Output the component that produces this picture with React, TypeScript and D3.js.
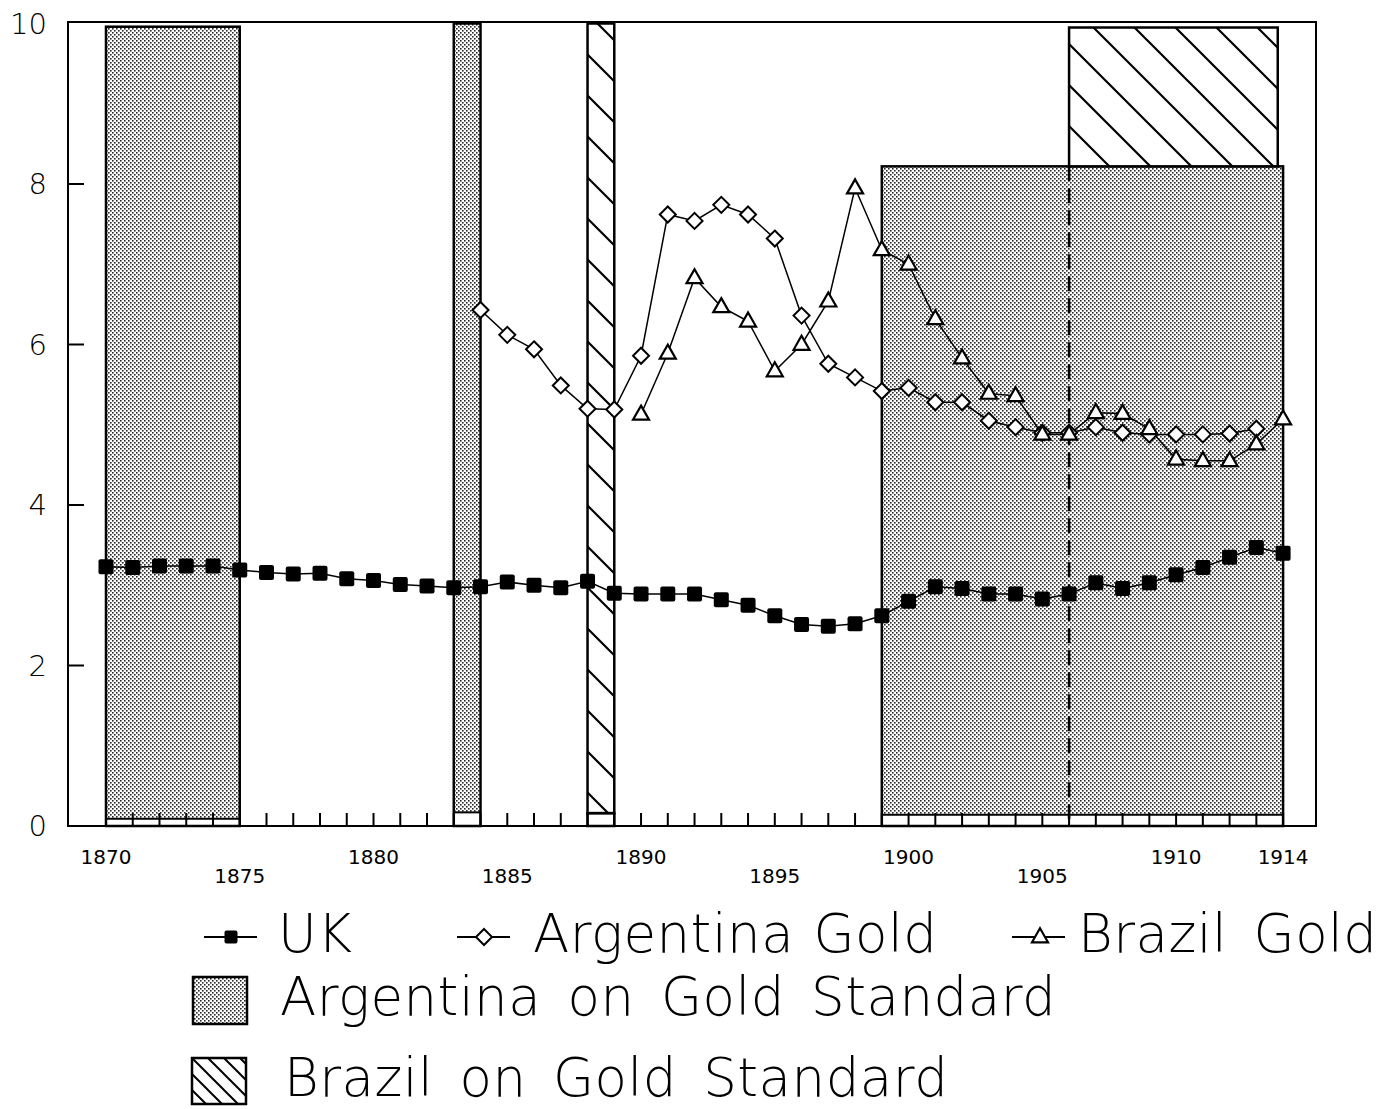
import React from 'react';
import * as d3 from 'd3';

// ---- data ----
const ukStart = 1870;
const ukValues = [3.23, 3.22, 3.24, 3.24, 3.24, 3.19, 3.16, 3.14, 3.15, 3.08, 3.06, 3.01, 2.99, 2.97, 2.98, 3.04, 3.0, 2.97, 3.05, 2.9, 2.89, 2.89, 2.89, 2.82, 2.75, 2.62, 2.51, 2.49, 2.52, 2.62, 2.8, 2.98, 2.96, 2.89, 2.89, 2.83, 2.89, 3.03, 2.96, 3.03, 3.13, 3.22, 3.35, 3.47, 3.4];
const argStart = 1884;
const argValues = [6.43, 6.12, 5.94, 5.49, 5.2, 5.19, 5.86, 7.62, 7.54, 7.74, 7.62, 7.32, 6.36, 5.76, 5.59, 5.42, 5.46, 5.28, 5.28, 5.05, 4.97, 4.9, 4.9, 4.97, 4.9, 4.88, 4.88, 4.88, 4.89, 4.95];
const braStart = 1890;
const braValues = [5.13, 5.89, 6.83, 6.47, 6.29, 5.67, 6.0, 6.54, 7.95, 7.18, 7.0, 6.32, 5.83, 5.39, 5.36, 4.88, 4.88, 5.15, 5.14, 4.95, 4.57, 4.55, 4.55, 4.76, 5.07];

const argBarStart = [1870, 1883, 1899];
const argBarEnd = [1875, 1884, 1914];
const argBarLow = [0.09, 0.17, 0.14];
const argBarHigh = [9.96, 10, 8.22];

const braBarStart = [1888, 1906];
const braBarEnd = [1889, 1913.8];
const braBarLow = [0.16, 8.22];
const braBarHigh = [10, 9.95];

const yTicks = [0, 2, 4, 6, 8, 10];
const xLabelsUpper = [1870, 1880, 1890, 1900, 1910, 1914];
const xLabelsLower = [1875, 1885, 1895, 1905];

const legendLabels = ['UK', 'Argentina Gold', 'Brazil Gold', 'Argentina on Gold Standard', 'Brazil on Gold Standard'];

// ---- layout ----
const W = 1383;
const H = 1109;
const left = 68, right = 1316, top = 22, bottom = 826;

const x = d3.scaleLinear().domain([1868.58, 1915.23]).range([left, right]);
const y = d3.scaleLinear().domain([0, 10]).range([bottom, 23.5]);

const FONT = '"DejaVu Sans", sans-serif';
const FONT_LIGHT = '"DejaVu Sans ExtraLight", "DejaVu Sans Light", "DejaVu Sans", sans-serif';

function series(start: number, vals: number[]) {
  return vals.map((v, i) => ({ year: start + i, v }));
}

const lineGen = d3
  .line<{ year: number; v: number }>()
  .x((d) => x(d.year))
  .y((d) => y(d.v));

const Square = ({ cx, cy, s = 15 }: { cx: number; cy: number; s?: number }) => (
  <rect x={cx - s / 2} y={cy - s / 2} width={s} height={s} rx={2} fill="#000" />
);
const Diamond = ({ cx, cy, r = 8 }: { cx: number; cy: number; r?: number }) => (
  <path d={`M${cx},${cy - r}L${cx + r},${cy}L${cx},${cy + r}L${cx - r},${cy}Z`} fill="#fff" stroke="#000" strokeWidth={2} />
);
const Triangle = ({ cx, cy, w = 16, h = 14 }: { cx: number; cy: number; w?: number; h?: number }) => (
  <path d={`M${cx},${cy - h * 0.62}L${cx + w / 2},${cy + h * 0.38}L${cx - w / 2},${cy + h * 0.38}Z`} fill="#fff" stroke="#000" strokeWidth={2.2} strokeLinejoin="miter" />
);

export default function App() {
  const uk = series(ukStart, ukValues);
  const arg = series(argStart, argValues);
  const bra = series(braStart, braValues);
  const years = d3.range(1870, 1915);

  return (
    <svg width={W} height={H} style={{ position: 'absolute', left: 0, top: 0, background: '#fff' }} xmlns="http://www.w3.org/2000/svg">
      <defs>
        <pattern id="stipple" patternUnits="userSpaceOnUse" width={4} height={4}>
          <rect width={4} height={4} fill="#fff" />
          <rect x={0} y={0} width={1.6} height={1.6} fill="#2a2a2a" />
          <rect x={2} y={2} width={1.6} height={1.6} fill="#2a2a2a" />
        </pattern>
        <pattern id="hatch" patternUnits="userSpaceOnUse" width={41} height={41}>
          <path d="M0,0L41,41M-10,31L10,51M31,-10L51,10" stroke="#000" strokeWidth={2.2} />
        </pattern>
        <pattern id="hatchSmall" patternUnits="userSpaceOnUse" width={16} height={16} x={192} y={1058}>
          <path d="M0,0L16,16M-4,12L4,20M12,-4L20,4" stroke="#000" strokeWidth={2} />
        </pattern>
      </defs>

      {/* Argentina on gold standard bars */}
      {argBarStart.map((s, i) => (
        <g key={'ab' + i}>
          <rect x={x(s)} y={y(argBarHigh[i])} width={x(argBarEnd[i]) - x(s)} height={y(argBarLow[i]) - y(argBarHigh[i])} fill="url(#stipple)" />
          <rect x={x(s)} y={y(argBarHigh[i])} width={x(argBarEnd[i]) - x(s)} height={y(0) - y(argBarHigh[i])} fill="none" stroke="#000" strokeWidth={2.5} />
          <line x1={x(s)} x2={x(argBarEnd[i])} y1={y(argBarLow[i])} y2={y(argBarLow[i])} stroke="#000" strokeWidth={2} />
        </g>
      ))}

      {/* Brazil on gold standard bars */}
      {braBarStart.map((s, i) => (
        <g key={'bb' + i}>
          <rect x={x(s)} y={y(braBarHigh[i])} width={x(braBarEnd[i]) - x(s)} height={y(braBarLow[i]) - y(braBarHigh[i])} fill="#fff" />
          <rect x={x(s)} y={y(braBarHigh[i])} width={x(braBarEnd[i]) - x(s)} height={y(braBarLow[i]) - y(braBarHigh[i])} fill="url(#hatch)" stroke="#000" strokeWidth={2.5} />
          {braBarLow[i] < 1 ? (
            <rect x={x(s)} y={y(braBarLow[i])} width={x(braBarEnd[i]) - x(s)} height={y(0) - y(braBarLow[i])} fill="none" stroke="#000" strokeWidth={2.5} />
          ) : (
            <line x1={x(s)} x2={x(s)} y1={y(braBarLow[i])} y2={y(0)} stroke="#000" strokeWidth={2.6} strokeDasharray="15,7" />
          )}
        </g>
      ))}

      {/* frame */}
      <rect x={left} y={top} width={right - left} height={bottom - top} fill="none" stroke="#000" strokeWidth={2} />

      {/* x ticks */}
      {years.map((yr) => (
        <line key={'xt' + yr} x1={x(yr)} x2={x(yr)} y1={bottom} y2={bottom - 13} stroke="#000" strokeWidth={2} />
      ))}
      {/* y ticks */}
      {yTicks.filter((t) => t > 0 && t < 10).map((t) => (
        <line key={'yt' + t} x1={left} x2={left + 16} y1={y(t)} y2={y(t)} stroke="#000" strokeWidth={2} />
      ))}

      {/* y labels */}
      {yTicks.map((t) => (
        <text key={'yl' + t} x={47} y={y(t)} dy="0.36em" textAnchor="end" fontFamily={FONT_LIGHT} fontWeight={200} fontSize={29} fill="#000">
          {t}
        </text>
      ))}
      {/* x labels */}
      {xLabelsUpper.map((t) => (
        <text key={'xu' + t} x={x(t)} y={864} textAnchor="middle" fontFamily={FONT} fontSize={20} fill="#000">
          {t}
        </text>
      ))}
      {xLabelsLower.map((t) => (
        <text key={'xl' + t} x={x(t)} y={883} textAnchor="middle" fontFamily={FONT} fontSize={20} fill="#000">
          {t}
        </text>
      ))}

      {/* lines */}
      <path d={lineGen(uk) || ''} fill="none" stroke="#000" strokeWidth={1.5} />
      <path d={lineGen(arg) || ''} fill="none" stroke="#000" strokeWidth={1.5} />
      <path d={lineGen(bra) || ''} fill="none" stroke="#000" strokeWidth={1.5} />

      {uk.map((d) => (
        <Square key={'s' + d.year} cx={x(d.year)} cy={y(d.v)} />
      ))}
      {arg.map((d) => (
        <Diamond key={'d' + d.year} cx={x(d.year)} cy={y(d.v)} />
      ))}
      {bra.map((d) => (
        <Triangle key={'t' + d.year} cx={x(d.year)} cy={y(d.v)} />
      ))}

      {/* legend */}
      <g fontFamily={FONT_LIGHT} fontWeight={200} fontSize={53} fill="#000" letterSpacing={0.5} wordSpacing={9}>
        <line x1={204} x2={257} y1={937} y2={937} stroke="#000" strokeWidth={1.8} />
        <Square cx={231} cy={937} s={13} />
        <text x={278} y={952}>{legendLabels[0]}</text>

        <line x1={457} x2={510} y1={937} y2={937} stroke="#000" strokeWidth={1.8} />
        <Diamond cx={484} cy={937} r={8} />
        <text x={533} y={952} wordSpacing={2}>{legendLabels[1]}</text>

        <line x1={1012} x2={1065} y1={937} y2={937} stroke="#000" strokeWidth={1.8} />
        <Triangle cx={1040} cy={937} />
        <text x={1078} y={952}>{legendLabels[2]}</text>

        <rect x={193} y={977} width={54} height={47} fill="url(#stipple)" stroke="#000" strokeWidth={2.5} />
        <text x={280} y={1015}>{legendLabels[3]}</text>

        <rect x={192} y={1058} width={54} height={46} fill="url(#hatchSmall)" stroke="#000" strokeWidth={2.5} />
        <text x={284} y={1096}>{legendLabels[4]}</text>
      </g>
    </svg>
  );
}
